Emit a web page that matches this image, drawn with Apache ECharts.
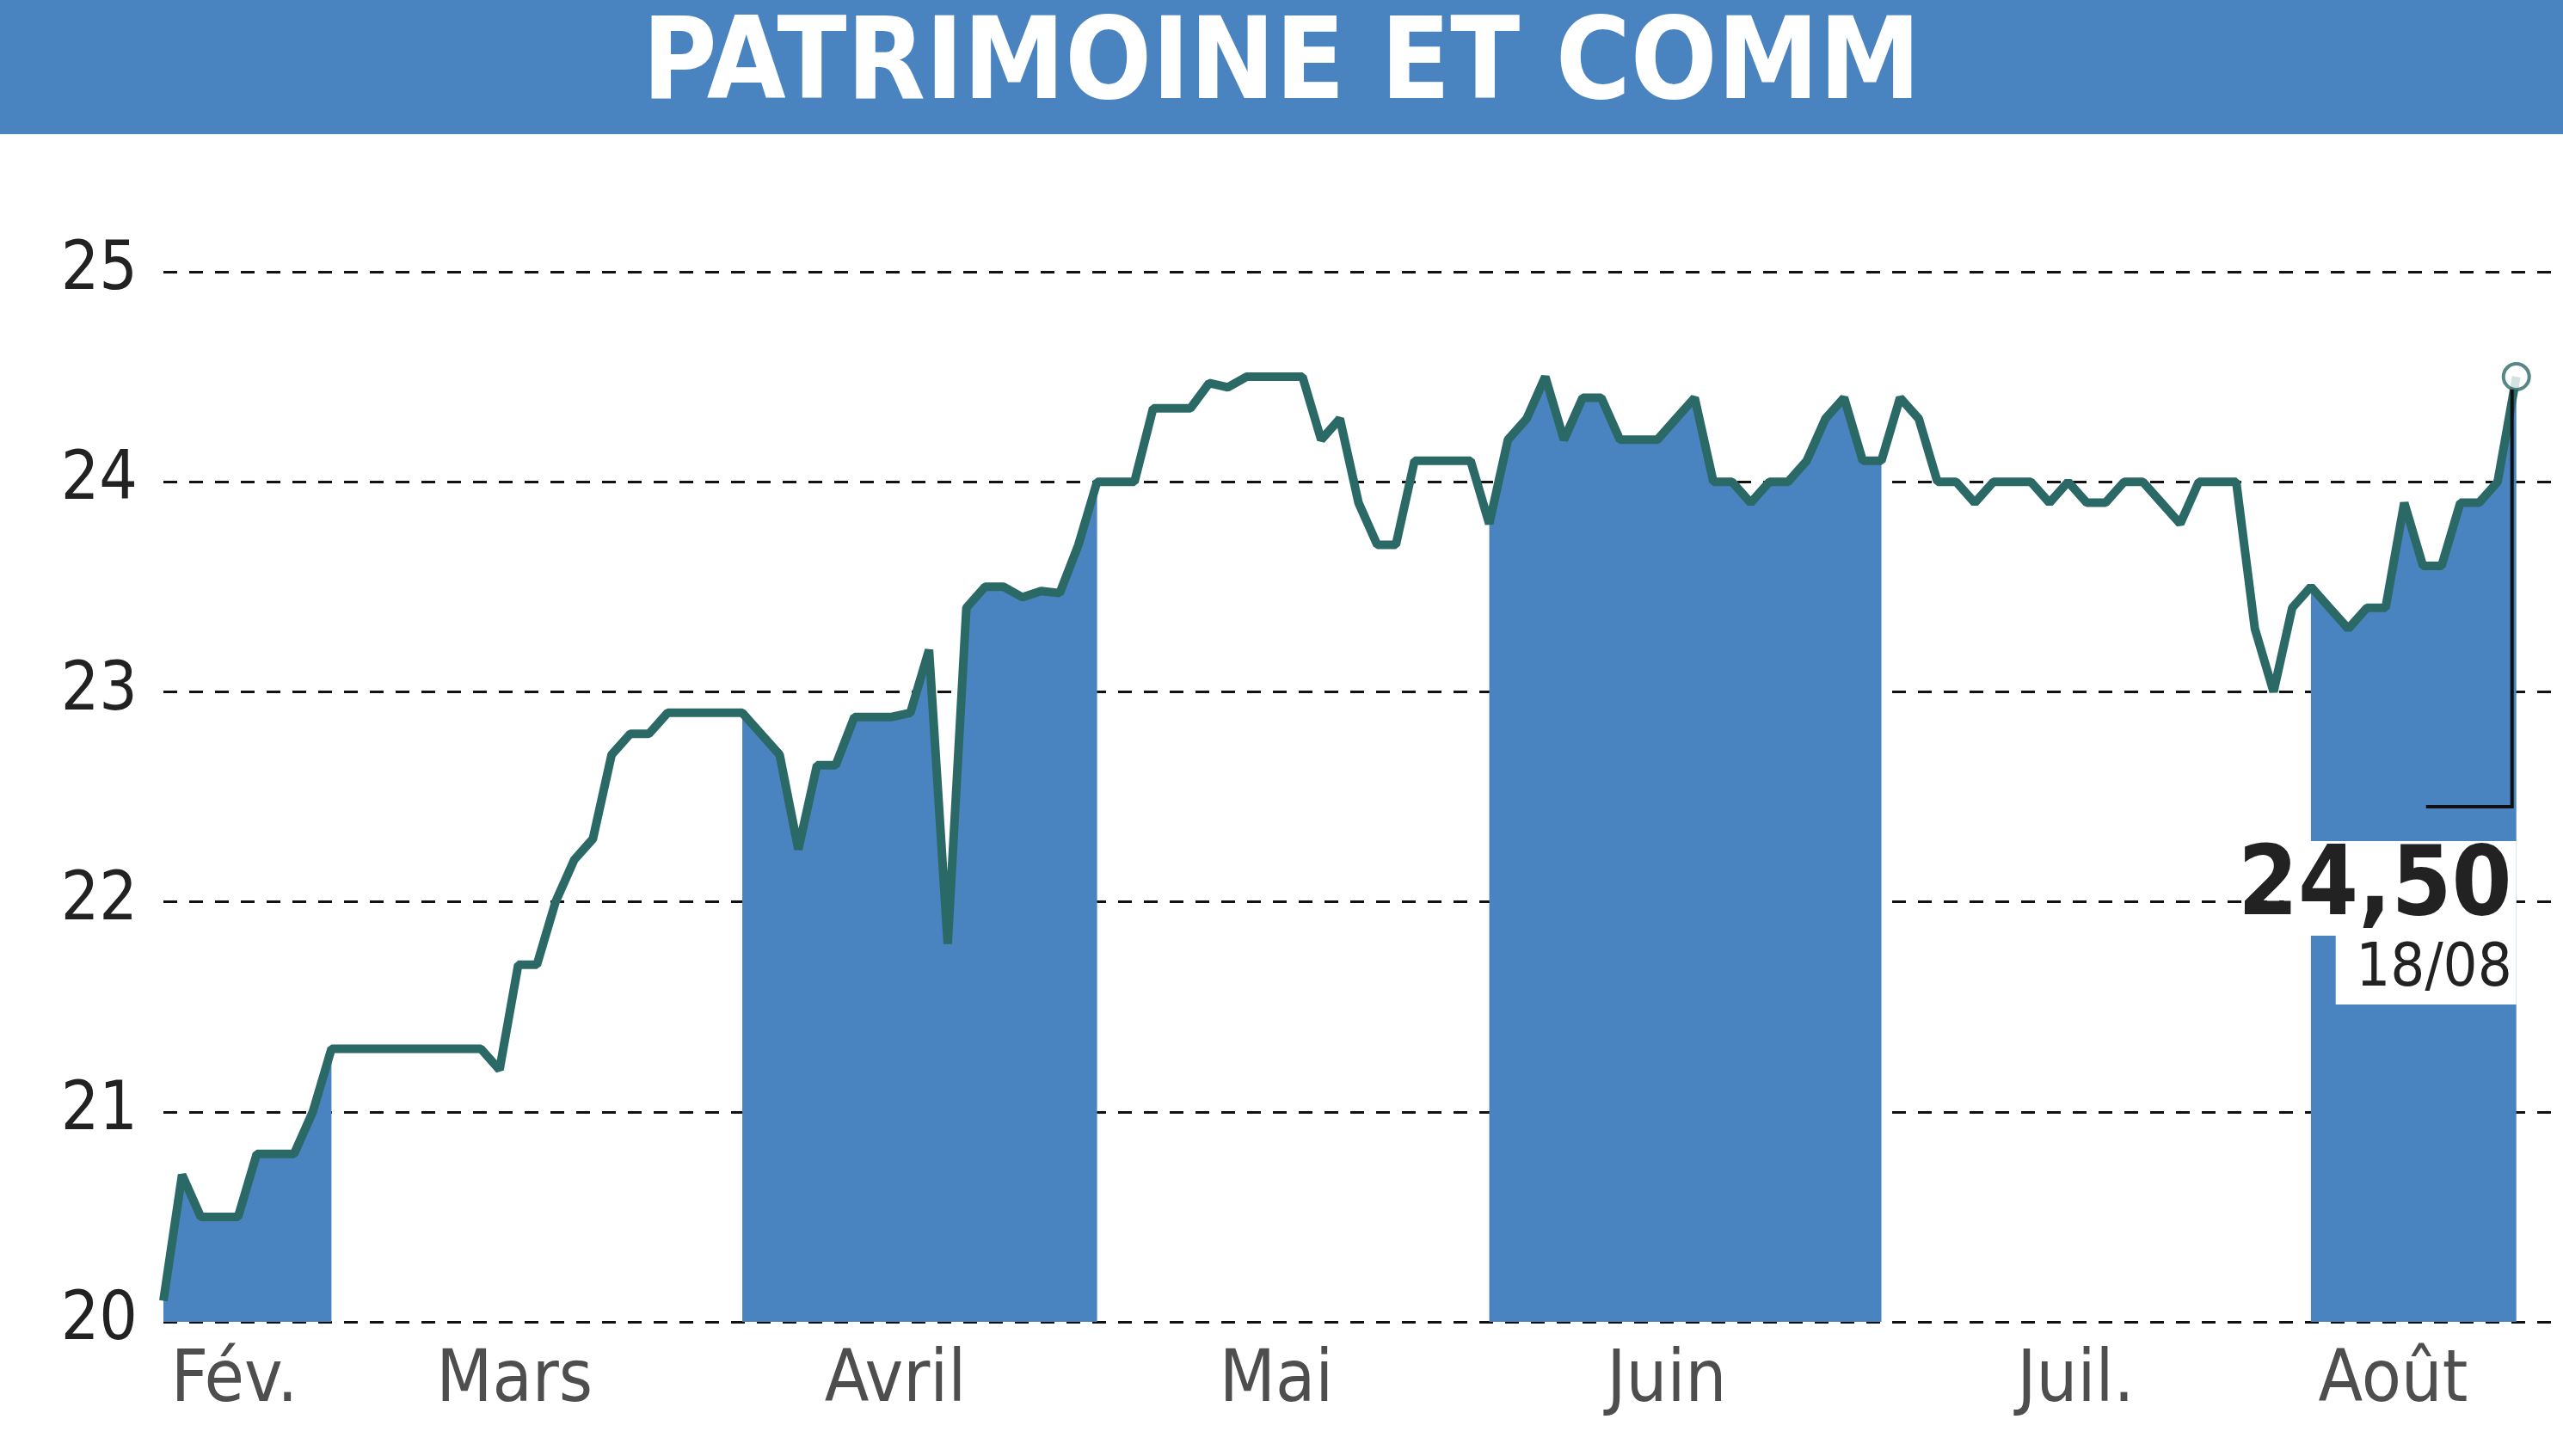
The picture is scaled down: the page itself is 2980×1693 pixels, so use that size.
<!DOCTYPE html>
<html><head><meta charset="utf-8">
<script src="https://cdn.jsdelivr.net/npm/echarts@6/dist/echarts.min.js"></script>
<style>html,body{margin:0;padding:0;background:#fff}#c{width:2980px;height:1693px}</style>
</head><body><div id="c"></div>
<script>
const title = 'PATRIMOINE ET COMM';
const prices = [20.1,20.7,20.5,20.5,20.5,20.8,20.8,20.8,21.0,21.3,
21.3,21.3,21.3,21.3,21.3,21.3,21.3,21.3,21.2,21.7,
21.7,22.0,22.2,22.3,22.7,22.8,22.8,22.9,22.9,22.9,
22.9,22.9,22.8,22.7,22.25,22.65,22.65,22.88,22.88,22.88,
22.9,23.2,21.8,23.4,23.5,23.5,23.45,23.48,23.47,23.7,
24.0,24.0,24.0,24.35,24.35,24.35,24.47,24.45,24.5,24.5,
24.5,24.5,24.2,24.3,23.9,23.7,23.7,24.1,24.1,24.1,
24.1,23.8,24.2,24.3,24.5,24.2,24.4,24.4,24.2,24.2,
24.2,24.3,24.4,24.0,24.0,23.9,24.0,24.0,24.1,24.3,
24.4,24.1,24.1,24.4,24.3,24.0,24.0,23.9,24.0,24.0,
24.0,23.9,24.0,23.9,23.9,24.0,24.0,23.9,23.8,24.0,
24.0,24.0,23.3,23.0,23.4,23.5,23.4,23.3,23.4,23.4,
23.9,23.6,23.6,23.9,23.9,24.0,24.5];
const monthNames = ['Fév.','Mars','Avril','Mai','Juin','Juil.','Août'];
const monthCenters = [3.8,18.8,39.2,59.6,80.5,102.4,119.4];
const shadedBands = [[0,9],[31,50],[71,92],[115,126]];
const lastLabel = '24,50', lastDate = '18/08';

const FONT = '"Liberation Sans Narrow","DejaVu Sans Condensed",sans-serif';
const BLUE = '#4a84c0', LINE = '#2b6966';
const chart = echarts.init(document.getElementById('c'));
const lineData = prices.map((v,i)=>[i,v]);
const bandSeries = shadedBands.map(b=>({
  type:'line', data: lineData.slice(b[0], b[1]+1), symbol:'none', silent:true,
  lineStyle:{width:0}, areaStyle:{color:BLUE, opacity:1, origin:'start'}, z:1
}));
const last = lineData[lineData.length-1];
chart.setOption({
  animation:false,
  grid:{left:190, right:0, top:316, bottom:156},
  xAxis:{type:'value', min:0, max:128.5, axisLine:{show:false}, axisTick:{show:false}, splitLine:{show:false}, axisLabel:{show:false}},
  yAxis:{type:'value', min:20, max:25, interval:1,
    axisLine:{show:false}, axisTick:{show:false},
    axisLabel:{fontFamily:FONT, fontSize:78, color:'#222', margin:30},
    splitLine:{lineStyle:{type:[16,14], color:'#111', width:3}}},
  series:[...bandSeries,
    {type:'line', data:lineData, symbol:'none', lineStyle:{color:LINE, width:10}, z:5},
    {type:'scatter', data:[last], symbol:'circle', symbolSize:30, itemStyle:{color:'#fff', borderColor:LINE, borderWidth:4}, z:6},
    {type:'scatter', data:monthCenters.map(c=>[c,20]), symbolSize:0, silent:true,
      label:{show:true, position:'bottom', distance:28, formatter:p=>monthNames[p.dataIndex], fontFamily:FONT, fontSize:84, color:'#222'}}
  ]
});
const p = chart.convertToPixel({gridIndex:0}, last);
chart.setOption({graphic:[
  {type:'rect', left:0, top:0, shape:{width:2980,height:156}, style:{fill:BLUE}},
  {type:'text', left:'center', top:14, style:{text:title, fill:'#fff', font:'bold 132px '+FONT}},
  {type:'polyline', shape:{points:[[p[0]-5,p[1]+15],[p[0]-5,p[1]+500],[p[0]-105,p[1]+500]]}, style:{stroke:'#111', lineWidth:4, fill:null}, z:20},
  {type:'rect', shape:{x:p[0]-270, y:p[1]+540, width:270, height:110}, style:{fill:'#fff'}, z:19},
  {type:'rect', shape:{x:p[0]-210, y:p[1]+650, width:210, height:80}, style:{fill:'#fff'}, z:19},
  {type:'text', x:p[0]-5, y:p[1]+540, style:{text:lastLabel, align:'right', font:'bold 112px '+FONT, fill:'#222'}, z:21},
  {type:'text', x:p[0]-5, y:p[1]+655, style:{text:lastDate, align:'right', font:'70px '+FONT, fill:'#222'}, z:21}
]}, {replaceMerge:['graphic']});
</script></body></html>
